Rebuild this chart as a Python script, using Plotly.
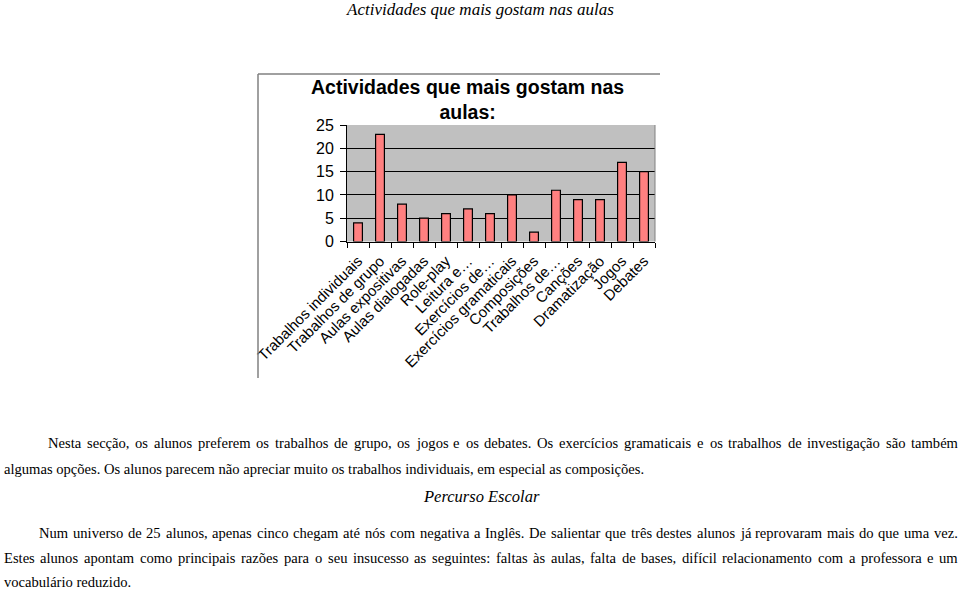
import plotly.graph_objects as go

W, H = 959, 589

categories = [
    "Trabalhos individuais", "Trabalhos de grupo", "Aulas expositivas",
    "Aulas dialogadas", "Role-play", "Leitura e…", "Exercícios de…",
    "Exercícios gramaticais", "Composições", "Trabalhos de…", "Canções",
    "Dramatização", "Jogos", "Debates",
]
values = [4, 23, 8, 5, 6, 7, 6, 10, 2, 11, 9, 9, 17, 15]
y_ticks = [0, 5, 10, 15, 20, 25]

page_title = "Actividades que mais gostam nas aulas"
chart_title = "Actividades que mais gostam nas<br>aulas:"
section_title = "Percurso Escolar"
# (text, left x, right x or None for ragged, centre y)
paragraph_lines = [
    ("Nesta secção, os alunos preferem os trabalhos de grupo, os jogos e os debates. Os exercícios gramaticais e os trabalhos de investigação são também", 47, 957, 443),
    ("algumas opções. Os alunos parecem não apreciar muito os trabalhos individuais, em especial as composições.", 3, None, 469),
    ("Num universo de 25 alunos, apenas cinco chegam até nós com negativa a Inglês. De salientar que três destes alunos já reprovaram mais do que uma vez.", 38, 957, 533),
    ("Estes alunos apontam como principais razões para o seu insucesso as seguintes: faltas às aulas, falta de bases, difícil relacionamento com a professora e um", 3, 957, 558),
    ("vocabulário reduzido.", 3, None, 582),
]

# Times / Liberation Serif advance widths (per 1000 em) for text layout
TW = {
    ' ': 250, ',': 250, '.': 250, ':': 278, '-': 333,
    'a': 444, 'b': 500, 'c': 444, 'd': 500, 'e': 444, 'f': 333, 'g': 500, 'h': 500,
    'i': 278, 'j': 278, 'k': 500, 'l': 278, 'm': 778, 'n': 500, 'o': 500, 'p': 500,
    'q': 500, 'r': 333, 's': 389, 't': 278, 'u': 500, 'v': 500, 'w': 722, 'x': 500,
    'y': 500, 'z': 444,
    'A': 722, 'B': 667, 'C': 667, 'D': 722, 'E': 611, 'F': 556, 'G': 722, 'H': 722,
    'I': 333, 'J': 389, 'K': 722, 'L': 611, 'M': 889, 'N': 722, 'O': 722, 'P': 556,
    'Q': 722, 'R': 667, 'S': 556, 'T': 611, 'U': 722, 'V': 722, 'W': 944, 'X': 722,
    'Y': 722, 'Z': 611,
    'ç': 444, 'ã': 444, 'á': 444, 'à': 444, 'â': 444, 'é': 444, 'ê': 444, 'í': 278,
    'ó': 500, 'õ': 500, 'ô': 500, 'ú': 500, 'ê': 444,
}


def units(s):
    return sum(TW.get(ch, 500) for ch in s)


# font size chosen so the ragged second line spans the same width as in the picture
PSIZE = 641 * 1000 / units(paragraph_lines[1][0])


def px(x):
    return x / W


def py(y):
    return 1 - y / H


fig = go.Figure()
fig.add_trace(go.Bar(
    x=categories, y=values,
    marker=dict(color="#FF8080", line=dict(color="#000000", width=1.2)),
    showlegend=False, hoverinfo="skip",
))

plot_left, plot_right, plot_top, plot_bottom = 347, 655, 125, 241.5

fig.update_layout(
    width=W, height=H,
    margin=dict(l=0, r=0, t=0, b=0),
    paper_bgcolor="white",
    plot_bgcolor="#C0C0C0",
    bargap=0.6,
    xaxis=dict(
        domain=[px(plot_left), px(plot_right)],
        type="category",
        tickangle=-45,
        tickfont=dict(family="Liberation Sans, Arial", size=15, color="black"),
        showline=True, linecolor="black", linewidth=1,
        ticks="outside", ticklen=5, tickcolor="black", tickson="boundaries",
        ticklabelstandoff=4,
        showgrid=False, automargin=False,
    ),
    yaxis=dict(
        domain=[py(plot_bottom), py(plot_top)],
        range=[0, 25],
        tickvals=y_ticks,
        tickfont=dict(family="Liberation Sans, Arial", size=16, color="black"),
        showline=True, linecolor="black", linewidth=1,
        ticks="outside", ticklen=6, tickcolor="black",
        ticklabelstandoff=3,
        showgrid=True, gridcolor="black", gridwidth=1,
        zeroline=False, automargin=False,
    ),
)

shapes = [
    dict(type="line", xref="paper", yref="paper", x0=px(258), x1=px(660), y0=py(74), y1=py(74),
         line=dict(color="#808080", width=1.5)),
    dict(type="line", xref="paper", yref="paper", x0=px(258), x1=px(258), y0=py(74), y1=py(378),
         line=dict(color="#808080", width=1.5)),
    dict(type="line", xref="paper", yref="paper", x0=px(plot_right), x1=px(plot_right), y0=py(plot_top), y1=py(plot_bottom),
         line=dict(color="#808080", width=1)),
]
fig.update_layout(shapes=shapes)

ann = []
ann.append(dict(text="<i>" + page_title + "</i>", x=px(480), y=py(9), xref="paper", yref="paper",
                xanchor="center", yanchor="middle", showarrow=False,
                font=dict(family="Liberation Serif", size=17, color="black")))
ann.append(dict(text="<b>" + chart_title + "</b>", x=px(467), y=py(99.5), xref="paper", yref="paper",
                xanchor="center", yanchor="middle", showarrow=False, align="center",
                font=dict(family="Liberation Sans, Arial", size=19.5, color="black")))
ann.append(dict(text="<i>" + section_title + "</i>", x=px(481), y=py(496), xref="paper", yref="paper",
                xanchor="center", yanchor="middle", showarrow=False,
                font=dict(family="Liberation Serif", size=16.5, color="black")))

tfont = dict(family="Liberation Serif", size=PSIZE, color="black")
for txt, x0, x1, yc in paragraph_lines:
    if x1 is None:
        ann.append(dict(text=txt, x=px(x0), y=py(yc), xref="paper", yref="paper",
                        xanchor="left", yanchor="middle", showarrow=False, borderpad=0,
                        font=tfont))
        continue
    words = txt.split(" ")
    widths = [units(w) * PSIZE / 1000 for w in words]
    gap = (x1 - x0 - sum(widths)) / (len(words) - 1)
    cx = x0
    for w, wd in zip(words, widths):
        ann.append(dict(text=w, x=px(cx), y=py(yc), xref="paper", yref="paper",
                        xanchor="left", yanchor="middle", showarrow=False, borderpad=0,
                        font=tfont))
        cx += wd + gap
fig.update_layout(annotations=ann)

fig.write_html("out.html")
